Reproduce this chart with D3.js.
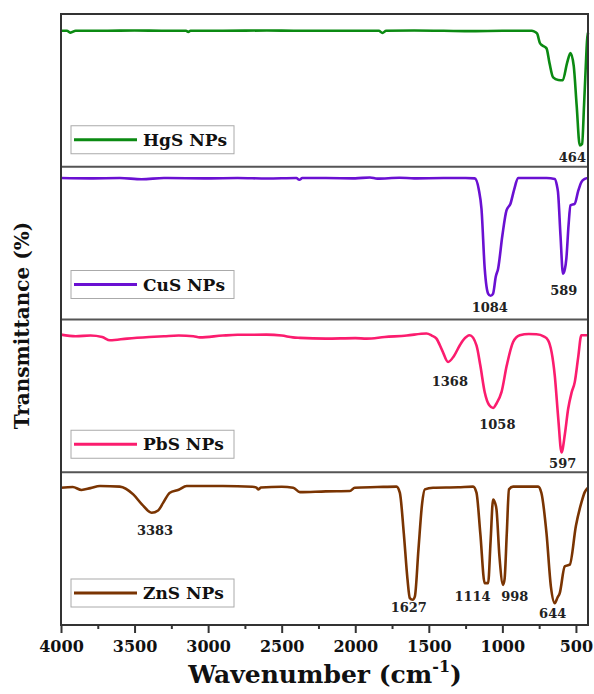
<!DOCTYPE html>
<html>
<head>
<meta charset="utf-8">
<script src="https://cdn.jsdelivr.net/npm/d3@7"></script>
<style>
  body { margin: 0; background: #fff; }
  text { font-family: "DejaVu Serif", "Liberation Serif", serif; font-weight: bold; }
</style>
</head>
<body>
<div id="chart"></div>
<script>
// series names / colours (top to bottom)
const names = ["HgS NPs", "CuS NPs", "PbS NPs", "ZnS NPs"];
const colors = ["#0b8a12", "#6a10d2", "#fb1c6e", "#7a3402"];

// wavenumber (cm-1) and transmittance (panel %)
const hgsWn = [4000, 3960, 3935, 3900, 3700, 3500, 3300, 3150, 3135, 3120, 2900, 2600, 2400, 2200, 2000, 1840, 1815, 1790, 1600, 1400, 1200, 1000, 880, 800, 785, 764, 745, 730, 700, 680, 655, 620, 590, 560, 537, 515, 495, 474, 458, 445, 433, 425, 418];
const hgsT  = [89, 89, 87.8, 89, 89, 89.2, 89, 89, 88.3, 89, 89, 89.2, 89, 89, 89, 89, 87.6, 89, 89.2, 89, 88.8, 89, 89, 89, 88.6, 87.2, 81, 79.5, 77.5, 68, 58.5, 56.8, 56.6, 68, 74.5, 66, 40, 14, 15, 40, 66, 82, 87.7];

const cusWn = [4000, 3800, 3600, 3452, 3300, 3000, 2800, 2600, 2400, 2380, 2360, 2200, 2000, 1900, 1850, 1700, 1600, 1400, 1250, 1188, 1160, 1142, 1120, 1097, 1080, 1063, 1045, 1029, 1000, 972, 945, 920, 893, 800, 700, 644, 630, 622, 605, 588, 575, 565, 550, 537, 508, 485, 463, 440, 418];
const cusT  = [92.6, 92.4, 92.6, 91.8, 92.6, 92.4, 92.6, 92.3, 92.6, 91.5, 92.6, 92.6, 92.4, 93, 92.2, 92.8, 92.4, 92.6, 92.6, 92.4, 85, 72.5, 33.3, 17, 15.5, 17, 28, 33.3, 55, 71.4, 75.8, 85, 92.6, 92.6, 92.6, 92, 88, 83.5, 55, 30, 33, 40, 62, 74.7, 75.8, 84, 90, 92, 92.6];

const pbsWn = [4000, 3900, 3800, 3720, 3667, 3550, 3400, 3300, 3200, 3100, 3056, 2900, 2800, 2603, 2500, 2424, 2376, 2200, 2000, 1923, 1800, 1650, 1516, 1480, 1448, 1410, 1369, 1330, 1290, 1267, 1222, 1176, 1150, 1120, 1090, 1063, 1040, 1006, 970, 927, 882, 820, 768, 720, 689, 644, 620, 598, 575, 553, 530, 508, 485, 463, 418];
const pbsT  = [90.1, 89, 89.5, 88.5, 86.4, 87.5, 88.5, 89, 89.5, 89, 88.3, 89.5, 90, 90.1, 89.5, 88.3, 88, 87.5, 87.8, 87.5, 88.5, 89.5, 90.8, 89.5, 87.5, 80, 72.2, 76, 83, 86.4, 89.7, 83.1, 70, 52.4, 44, 42.1, 45, 52.4, 70, 85.3, 89.7, 90.5, 90.3, 89, 86.4, 63.4, 35, 13, 25, 41.4, 52, 59, 75, 89.7, 89.7];

const znsWn = [4000, 3920, 3860, 3800, 3735, 3600, 3509, 3450, 3384, 3340, 3305, 3260, 3200, 3146, 2900, 2700, 2671, 2660, 2640, 2500, 2422, 2376, 2200, 2037, 2003, 1850, 1720, 1697, 1670, 1645, 1629, 1610, 1595, 1570, 1545, 1527, 1471, 1300, 1199, 1176, 1150, 1120, 1097, 1080, 1063, 1050, 1040, 1020, 995, 985, 970, 955, 927, 800, 757, 735, 700, 670, 644, 625, 610, 576, 542, 500, 463, 440, 418];
const znsT  = [89.9, 90.3, 88.4, 89.6, 91, 90.6, 85.5, 79, 73.5, 75, 80.1, 86.6, 88.5, 91, 91, 90.5, 89.9, 88.8, 90, 90.5, 89.9, 87, 87.5, 87.7, 89.9, 90.3, 90.6, 86.6, 60, 30, 17.6, 16.5, 18.6, 50, 80, 88.8, 89.9, 90.2, 90.6, 86.6, 60, 27.4, 27.4, 55, 82.2, 80, 75.7, 45, 26.3, 30, 60, 88.8, 90.6, 90.6, 90.6, 86.6, 60, 25, 14.3, 18, 20.9, 38.4, 39.5, 65, 80.1, 87, 89.9];

const seriesWn = [hgsWn, cusWn, pbsWn, znsWn];
const seriesT = [hgsT, cusT, pbsT, znsT];

// peak annotations: panel index, text, label anchor (wn, T)
const peakPanel = [0, 1, 1, 2, 2, 2, 3, 3, 3, 3, 3];
const peakText  = ["464", "1084", "589", "1368", "1058", "597", "3383", "1627", "1114", "998", "644"];
const peakWn    = [524, 1086, 583, 1357, 1034, 590, 3361, 1636, 1203, 916, 658];
const peakT     = [3.2, 5.2, 15.9, 56.6, 28.3, 2.6, 58.8, 8.8, 16, 16, 4.6];

const majorTicks = [4000, 3500, 3000, 2500, 2000, 1500, 1000, 500];
const minorTicks = [3750, 3250, 2750, 2250, 1750, 1250, 750];

const width = 594, height = 694;
const margin = { top: 14, right: 6, bottom: 69, left: 61 };
const plotW = width - margin.left - margin.right;
const plotH = height - margin.top - margin.bottom;
const panelH = plotH / names.length;
const legendGap = [13, 21, 14, 18];

const svg = d3.select("#chart").append("svg")
    .attr("width", width)
    .attr("height", height);

const g = svg.append("g")
    .attr("transform", `translate(${margin.left},${margin.top})`);

const x = d3.scaleLinear().domain([4000, 418]).range([0, plotW]);

names.forEach((name, i) => {
    const top = i * panelH;
    const y = d3.scaleLinear().domain([0, 100]).range([top + panelH, top]);
    const pts = seriesWn[i].map((w, k) => [w, seriesT[i][k]]);

    const line = d3.line()
        .x(d => x(d[0]))
        .y(d => y(d[1]))
        .curve(d3.curveMonotoneX);

    g.append("path")
        .datum(pts)
        .attr("d", line)
        .attr("fill", "none")
        .attr("stroke", colors[i])
        .attr("stroke-width", 2.6)
        .attr("stroke-linejoin", "round");

    // legend
    const lb = top + panelH - legendGap[i];
    const lg = g.append("g").attr("transform", `translate(10,${lb - 28})`);
    lg.append("rect")
        .attr("width", 163).attr("height", 28)
        .attr("fill", "#fff")
        .attr("stroke", "#aaa").attr("stroke-width", 1);
    lg.append("line")
        .attr("x1", 3).attr("x2", 66).attr("y1", 14).attr("y2", 14)
        .attr("stroke", colors[i]).attr("stroke-width", 3);
    lg.append("text")
        .attr("x", 72).attr("y", 20)
        .attr("font-size", 17)
        .attr("fill", "#111")
        .text(name);

    // panel divider
    if (i > 0) {
        g.append("line")
            .attr("x1", 0).attr("x2", plotW)
            .attr("y1", top).attr("y2", top)
            .attr("stroke", "#555").attr("stroke-width", 2);
    }

    // peak labels
    peakPanel.forEach((p, k) => {
        if (p !== i) return;
        g.append("text")
            .attr("x", x(peakWn[k]))
            .attr("y", y(peakT[k]))
            .attr("text-anchor", "middle")
            .attr("font-size", 13)
            .attr("fill", "#222")
            .text(peakText[k]);
    });
});

// frame
g.append("rect")
    .attr("width", plotW).attr("height", plotH)
    .attr("fill", "none")
    .attr("stroke", "#333").attr("stroke-width", 2);

// x axis
const xAxis = g.append("g")
    .attr("transform", `translate(0,${plotH})`)
    .call(d3.axisBottom(x).tickValues(majorTicks).tickSize(8).tickPadding(8).tickFormat(d3.format("d")));
xAxis.select(".domain").remove();
xAxis.selectAll(".tick line").attr("stroke", "#333").attr("stroke-width", 2);
xAxis.selectAll(".tick text")
    .attr("font-size", 16)
    .attr("font-family", "DejaVu Serif, serif")
    .attr("font-weight", "bold")
    .attr("fill", "#111");

const xMinor = g.append("g")
    .attr("transform", `translate(0,${plotH})`)
    .call(d3.axisBottom(x).tickValues(minorTicks).tickSize(4).tickFormat(""));
xMinor.select(".domain").remove();
xMinor.selectAll(".tick line").attr("stroke", "#333").attr("stroke-width", 2);

// axis titles
const xt = svg.append("text")
    .attr("x", 325).attr("y", 683)
    .attr("text-anchor", "middle")
    .attr("font-size", 25)
    .attr("fill", "#111");
xt.append("tspan").text("Wavenumber (cm");
xt.append("tspan").attr("font-size", 16).attr("dy", -11).text("-1");
xt.append("tspan").attr("dy", 11).text(")");

svg.append("text")
    .attr("transform", `translate(29,${margin.top + plotH / 2 + 6}) rotate(-90)`)
    .attr("text-anchor", "middle")
    .attr("font-size", 20)
    .attr("fill", "#111")
    .text("Transmittance (%)");
</script>
</body>
</html>
